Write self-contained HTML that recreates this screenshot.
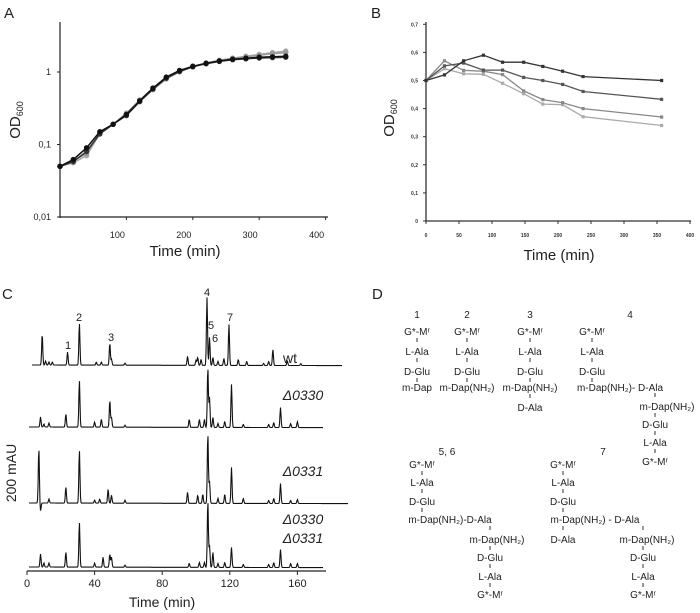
<!DOCTYPE html>
<html><head><meta charset="utf-8"><style>
html,body{margin:0;padding:0;background:#fff;}
svg{display:block;font-family:"Liberation Sans",sans-serif;}
.t{font-size:9px;fill:#222;}
.d{font-size:10px;fill:#222;font-family:"Liberation Sans",sans-serif;}
</style></head><body>
<svg id="fig" width="700" height="613" viewBox="0 0 700 613">
<g id="pa"></g>
<g id="pb"></g>
<g id="pc"></g>
<g id="pd"></g>
</svg>
<script>
// Panel A data (OD600 log scale)
const aTimes=[0,20,40,60,80,100,120,140,160,180,200,220,240,260,280,300,320,340];
const aBlack=[0.05,0.062,0.09,0.15,0.19,0.26,0.4,0.6,0.85,1.05,1.2,1.32,1.42,1.5,1.55,1.6,1.62,1.65];
const aBlack2=[0.05,0.058,0.08,0.14,0.19,0.25,0.39,0.58,0.82,1.02,1.18,1.3,1.4,1.48,1.52,1.56,1.58,1.6];
const aGray1=[0.05,0.056,0.07,0.14,0.19,0.26,0.4,0.57,0.8,1.0,1.18,1.32,1.44,1.55,1.65,1.75,1.85,1.95];
const aGray2=[0.05,0.06,0.075,0.145,0.19,0.27,0.41,0.6,0.83,1.03,1.2,1.33,1.45,1.55,1.62,1.7,1.78,1.85];
const aYTicks=[0.01,0.1,1];
const aYLabels=["0,01","0,1","1"];
const aXTicks=[100,200,300,400];
// Panel B data
const bTimes=[0,28,57,87,116,148,177,207,238,357];
const bS1=[0.50,0.52,0.57,0.59,0.565,0.565,0.55,0.533,0.514,0.50];
const bS2=[0.50,0.552,0.562,0.537,0.537,0.511,0.50,0.486,0.461,0.433];
const bS3=[0.50,0.57,0.536,0.533,0.521,0.463,0.432,0.421,0.40,0.37];
const bS4=[0.50,0.542,0.524,0.522,0.49,0.453,0.416,0.414,0.371,0.34];
const bYTicks=[0,0.1,0.2,0.3,0.4,0.5,0.6,0.7];
const bYLabels=["0","0,1","0,2","0,3","0,4","0,5","0,6","0,7"];
const bXTicks=[0,50,100,150,200,250,300,350,400];
// Panel C data (peak retention times in min, heights in mAU-px)
const cWtT=[9,11,13,15,24,31,41,44,49,50,58,95,100,101,103,106.5,108,110,113,116.5,119.5,125,130,140,143,145.5,154,162];
const cWtH=[31,4,3,3,13,42,3,3,22,6,2,9,5,8,6,68,28,8,4,7,41,6,4,2,4,16,5,2];
const c330T=[8,10,13,23,31,40,44,49,50,58,96,102,105,107,108,110,113,117,121,128,143,146,150,156,160];
const c330H=[10,3,4,13,47,5,8,27,10,2,8,8,8,60,30,10,4,6,43,3,3,5,20,4,6];
const c331T=[7,8,13,23,31,40,43,48,50,58,95,101,104,107,108,113,117,121,128,143,146,150,156,160];
const c331H=[55,-8,4,16,53,3,4,14,8,3,11,8,9,70,22,5,9,36,5,3,5,20,3,4];
const cDblT=[8,10,13,23,31,40,45,49,50,58,96,102,105,107,108,110,113,117,121,128,143,146,150,156,160];
const cDblH=[13,4,4,15,45,4,10,13,10,2,4,5,5,67,22,15,4,5,20,3,3,5,18,4,4];
const cXTicks=[0,40,80,120,160];
</script>
<script>
const NS="http://www.w3.org/2000/svg";
function mk(parent,tag,attrs,text){const e=document.createElementNS(NS,tag);for(const k in attrs)e.setAttribute(k,attrs[k]);if(text!==undefined)e.textContent=text;parent.appendChild(e);return e;}

// ---------- Panel A ----------
const pa=document.getElementById('pa');
const ax=t=>60+t*0.664, ay=v=>217-(Math.log10(v)+2)*72.5;
let e;
e=mk(pa,'text',{x:4,y:18,'font-size':15,fill:'#222'},'A');


e=mk(pa,'line',{x1:60,y1:22,x2:60,y2:218,stroke:'#222','stroke-width':1.2});


e=mk(pa,'line',{x1:60,y1:217,x2:328,y2:217,stroke:'#222','stroke-width':1.2});


aYTicks.forEach((v,i)=>{
  e=mk(pa,'line',{x1:57,y1:ay(v),x2:60,y2:ay(v),stroke:'#222'});
  
  
  e=mk(pa,'text',{x:51,y:ay(v)+3,'text-anchor':'end',class:'t'},aYLabels[i]);
  
  
});
aXTicks.forEach(v=>{
  e=mk(pa,'line',{x1:ax(v),y1:217,x2:ax(v),y2:220,stroke:'#222'});
  
  
  e=mk(pa,'text',{x:ax(v)-9,y:238,'text-anchor':'middle',class:'t','font-size':10},String(v));
  
  
});
e=mk(pa,'text',{x:185,y:256,'text-anchor':'middle','font-size':15,fill:'#222'},'Time (min)');


e=mk(pa,'text',{transform:'translate(20,120) rotate(-90)','text-anchor':'middle','font-size':15,fill:'#222'});


e.innerHTML='OD<tspan font-size="9" dy="3">600</tspan>';
[[aGray1,'#aaa'],[aGray2,'#999'],[aBlack2,'#333'],[aBlack,'#111']].forEach(([s,c],k)=>{
  const pts=aTimes.map((t,i)=>ax(t).toFixed(1)+','+ay(s[i]).toFixed(1)).join(' ');
  e=mk(pa,'polyline',{points:pts,fill:'none',stroke:c,'stroke-width':1.5});
  
  
  aTimes.forEach((t,i)=>{
    e=mk(pa,'circle',{cx:ax(t),cy:ay(s[i]),r:2.7,fill:c});
    
    
  });
});

// ---------- Panel B ----------
const pb=document.getElementById('pb');
const bx=t=>426+t*0.66, by=v=>221-v*281;
e=mk(pb,'text',{x:371,y:18,'font-size':15,fill:'#222'},'B');


e=mk(pb,'line',{x1:426,y1:22,x2:426,y2:221,stroke:'#333','stroke-width':1.3});


e=mk(pb,'line',{x1:425,y1:221,x2:691,y2:221,stroke:'#333','stroke-width':1.3});


bYTicks.forEach((v,i)=>{
  e=mk(pb,'line',{x1:423,y1:by(v),x2:426,y2:by(v),stroke:'#333'});
  
  
  e=mk(pb,'text',{x:418,y:by(v)+2,'text-anchor':'end','font-size':5,'font-weight':'bold',fill:'#333'},bYLabels[i]);
  
  
});
bXTicks.forEach(v=>{
  e=mk(pb,'line',{x1:bx(v),y1:221,x2:bx(v),y2:224,stroke:'#333'});
  
  
  e=mk(pb,'text',{x:bx(v),y:237,'text-anchor':'middle','font-size':5,'font-weight':'bold',fill:'#333'},String(v));
  
  
});
e=mk(pb,'text',{x:559,y:260,'text-anchor':'middle','font-size':15,fill:'#222'},'Time (min)');


e=mk(pb,'text',{transform:'translate(394,118) rotate(-90)','text-anchor':'middle','font-size':15,fill:'#222'});


e.innerHTML='OD<tspan font-size="9" dy="3">600</tspan>';
[[bS4,'#aaa'],[bS3,'#888'],[bS2,'#555'],[bS1,'#333']].forEach(([s,c])=>{
  const pts=bTimes.map((t,i)=>bx(t).toFixed(1)+','+by(s[i]).toFixed(1)).join(' ');
  e=mk(pb,'polyline',{points:pts,fill:'none',stroke:c,'stroke-width':1.3});
  
  
  bTimes.forEach((t,i)=>{
    e=mk(pb,'rect',{x:bx(t)-1.6,y:by(s[i])-1.6,width:3.2,height:3.2,fill:c});
    
    
  });
});

// ---------- Panel C ----------
const pc=document.getElementById('pc');
const cx=t=>27+t*1.69;
e=mk(pc,'text',{x:2,y:299,'font-size':15,fill:'#222'},'C');


function trace(T,H,base,x0,x1,name){
  let d='';
  for(let px=x0;px<=x1;px+=0.5){
    const t=(px-27)/1.69;let y=0;
    for(let i=0;i<T.length;i++){const dt=(t-T[i])/0.45;y+=H[i]*Math.exp(-dt*dt);}
    const tail=(px-x0)/(x1-x0)*2;
    d+=(d?'L':'M')+px.toFixed(1)+','+(base-y+tail*0.3).toFixed(1);
  }
  e=mk(pc,'path',{d:d,fill:'none',stroke:'#111','stroke-width':1.1});
  
  
}
trace(cWtT,cWtH,365,32,342,'trace-wt');
trace(c330T,c330H,427,29,323,'trace-d0330');
trace(c331T,c331H,503,29,348,'trace-d0331');
trace(cDblT,cDblH,567,29,323,'trace-d0330-d0331');
e=mk(pc,'line',{x1:27,y1:571,x2:326,y2:571,stroke:'#222','stroke-width':1.2});


cXTicks.forEach(v=>{
  e=mk(pc,'line',{x1:cx(v),y1:571,x2:cx(v),y2:575,stroke:'#222'});
  
  
  e=mk(pc,'text',{x:cx(v),y:587,'text-anchor':'middle','font-size':11,fill:'#222'},String(v));
  
  
});
e=mk(pc,'text',{x:162,y:607,'text-anchor':'middle','font-size':14,fill:'#222'},'Time (min)');


e=mk(pc,'text',{transform:'translate(16,473) rotate(-90)','text-anchor':'middle','font-size':14,fill:'#222'},'200 mAU');


[['1',68,349],['2',79,321],['3',111,341],['4',207,296],['5',211,329],['6',215,342],['7',230,321]].forEach(([s,x,y])=>{
  e=mk(pc,'text',{x:x,y:y,'text-anchor':'middle','font-size':11,fill:'#222'},s);
  
  
});
[['wt',290,363,'normal'],['\u03940330',303,400,'italic'],['\u03940331',303,476,'italic'],['\u03940330',303,524,'italic'],['\u03940331',303,543,'italic']].forEach(([s,x,y,st])=>{
  e=mk(pc,'text',{x:x,y:y,'text-anchor':'middle','font-size':14,'font-style':st,fill:'#222'},s);
  
  
});

// ---------- Panel D ----------
const pd=document.getElementById('pd');
e=mk(pd,'text',{x:372,y:299,'font-size':15,fill:'#222'},'D');


const dItems=[
['1',417,318],['2',467,318],['3',530,318],['4',630,318],
['G*-M\u02b3',417,335],['L-Ala',417,355],['D-Glu',417,375],['m-Dap',417,391],
['G*-M\u02b3',467,335],['L-Ala',467,355],['D-Glu',467,375],['m-Dap(NH\u2082)',467,391],
['G*-M\u02b3',530,335],['L-Ala',530,355],['D-Glu',530,375],['m-Dap(NH\u2082)',530,391],['D-Ala',530,411],
['G*-M\u02b3',592,335],['L-Ala',592,355],['D-Glu',592,375],['m-Dap(NH\u2082)- D-Ala',620,391],
['m-Dap(NH\u2082)',667,410],['D-Glu',655,428],['L-Ala',655,446],['G*-M\u02b3',655,465],
['5, 6',447,455],['G*-M\u02b3',422,468],['L-Ala',422,486],['D-Glu',422,505],['m-Dap(NH\u2082)-D-Ala',450,523],
['m-Dap(NH\u2082)',497,543],['D-Glu',490,561],['L-Ala',490,580],['G*-M\u02b3',490,598],
['7',603,455],['G*-M\u02b3',563,468],['L-Ala',563,486],['D-Glu',563,505],['m-Dap(NH\u2082) - D-Ala',595,523],
['D-Ala',563,543],['m-Dap(NH\u2082)',647,543],['D-Glu',643,561],['L-Ala',643,580],['G*-M\u02b3',643,598]
];
dItems.forEach(([s,x,y])=>{
  e=mk(pd,'text',{x:x,y:y,'text-anchor':'middle',class:'d'},s);
  
  
});
[[417,[337,357,377]],[467,[337,357,377]],[530,[337,357,377,393]],[592,[337,357,377]],[655,[392,412,430,448]],[422,[470,488,507]],[490,[525,545,563,582]],[563,[470,488,507,525]],[643,[525,545,563,582]]].forEach(([x,ys])=>{
  ys.forEach(y=>{
    e=mk(pd,'line',{x1:x,y1:y+1,x2:x,y2:y+5,stroke:'#333','stroke-width':1});
    
    
  });
});
</script>
</body></html>
